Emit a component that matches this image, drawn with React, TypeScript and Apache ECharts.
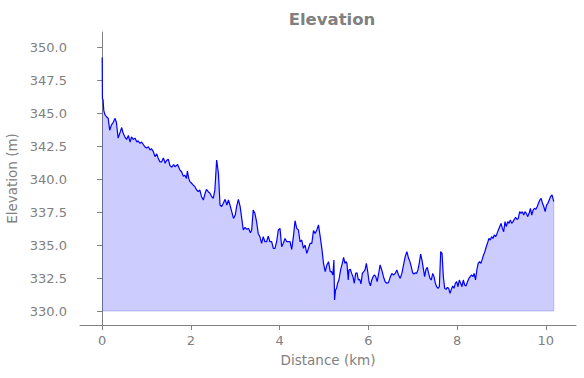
import React, { useEffect, useRef } from "react";
import * as echarts from "echarts";

const distanceKm: number[] = [
  0.0, 0.005, 0.02, 0.036, 0.06, 0.1, 0.135, 0.17, 0.21, 0.25, 0.29, 0.32, 0.36, 0.4, 0.44, 0.47, 0.51, 0.55, 0.59, 0.63,
  0.66, 0.7, 0.74, 0.78, 0.81, 0.85, 0.89, 0.93, 0.96, 1.0, 1.04, 1.08, 1.11, 1.15, 1.19, 1.23, 1.26, 1.3, 1.34, 1.38,
  1.42, 1.45, 1.49, 1.53, 1.57, 1.61,
  1.64, 1.7, 1.75, 1.79, 1.83, 1.86, 1.9, 1.92, 1.95, 1.98, 2.01, 2.05, 2.09, 2.13, 2.165, 2.2, 2.24, 2.28, 2.32, 2.35,
  2.39, 2.43, 2.47, 2.505, 2.54, 2.58, 2.62, 2.656, 2.69, 2.73, 2.77, 2.81, 2.845, 2.88, 2.92, 2.96, 3.0, 3.03, 3.07,
  3.11, 3.15, 3.18, 3.22, 3.26, 3.3, 3.34, 3.37,
  3.404, 3.442, 3.48, 3.517, 3.555, 3.593, 3.63, 3.668, 3.706, 3.744, 3.781, 3.82, 3.857, 3.895, 3.932, 3.97, 4.008,
  4.046, 4.083, 4.121, 4.159, 4.196, 4.234, 4.272, 4.31, 4.347, 4.385, 4.423, 4.46, 4.498, 4.536, 4.574, 4.612, 4.65,
  4.687, 4.725, 4.763, 4.8, 4.838, 4.876, 4.914, 4.951, 4.989, 5.027, 5.065, 5.102, 5.14,
  5.17, 5.2, 5.223, 5.238, 5.26, 5.283, 5.306, 5.336, 5.374, 5.412, 5.442, 5.472, 5.495, 5.517, 5.547, 5.562, 5.593,
  5.623, 5.653, 5.683, 5.713, 5.744, 5.774, 5.804, 5.834, 5.864, 5.895, 5.925, 5.955, 5.985, 6.015, 6.046, 6.076, 6.106,
  6.136, 6.166, 6.197, 6.227, 6.264, 6.302, 6.34, 6.378, 6.415, 6.453, 6.491, 6.529, 6.566, 6.604, 6.642, 6.68, 6.717,
  6.755, 6.793, 6.83, 6.868, 6.906,
  6.936, 6.966, 6.996, 7.027, 7.057, 7.087, 7.117, 7.147, 7.178, 7.208, 7.238, 7.268, 7.298, 7.328, 7.359, 7.389, 7.419,
  7.45, 7.48, 7.51, 7.54, 7.57, 7.6, 7.63, 7.66, 7.69, 7.72, 7.75, 7.78, 7.81, 7.84, 7.87, 7.9, 7.93, 7.96, 7.99, 8.02,
  8.05, 8.08, 8.11, 8.14, 8.17, 8.2, 8.235, 8.265, 8.295, 8.325, 8.355, 8.385, 8.415, 8.445, 8.475, 8.506, 8.536, 8.566,
  8.596, 8.626,
  8.657, 8.695, 8.717, 8.748, 8.778, 8.808, 8.838, 8.868, 8.9, 8.93, 8.96, 8.99, 9.02, 9.05, 9.08, 9.11, 9.14, 9.17, 9.2,
  9.23, 9.26, 9.29, 9.32, 9.35, 9.38, 9.41, 9.44, 9.47, 9.5, 9.53, 9.56, 9.593, 9.623, 9.653, 9.683, 9.714, 9.744, 9.774,
  9.804, 9.834, 9.865, 9.895, 9.925, 9.955, 9.985, 10.016, 10.046, 10.076, 10.106, 10.14, 10.16, 10.18,
];

const elevationM: number[] = [
  349.2, 346.1, 346.0, 345.2, 344.9, 344.7, 344.6, 343.7, 344.1, 344.3, 344.6, 344.3, 343.1, 343.5, 343.9, 343.5, 343.2,
  343.0, 343.3, 342.8, 343.2, 343.0, 343.1, 342.8, 342.9, 342.7, 342.8, 342.6, 342.45, 342.35, 342.45, 342.2, 342.3,
  342.1, 341.7, 341.9, 341.6, 341.3, 341.3, 341.6, 341.2, 341.4, 341.5, 341.0, 340.9, 341.1,
  340.93, 341.1, 340.7, 340.55, 340.2, 340.3, 340.05, 340.6, 340.05, 339.8, 339.7, 339.55, 339.42, 339.17, 339.04,
  339.17, 338.66, 338.41, 338.92, 339.22, 339.04, 338.92, 338.66, 338.54, 339.17, 341.44, 340.43, 338.03, 337.91,
  338.16, 338.46, 338.03, 338.41, 338.03, 337.53, 337.02, 337.27, 337.91, 338.46, 337.91, 336.9, 336.14, 336.34,
  336.19, 336.26, 335.93, 336.14,
  337.65, 337.4, 336.77, 335.88, 335.63, 335.13, 335.63, 335.25, 335.25, 335.68, 335.25, 335.25, 334.75, 334.75,
  335.25, 336.14, 336.26, 334.87, 335.13, 335.5, 335.25, 335.25, 335.25, 334.67, 335.63, 336.84, 336.26, 336.14,
  335.25, 335.38, 334.75, 335.0, 334.37, 334.75, 335.13, 335.13, 336.09, 335.88, 336.14, 336.52, 335.63, 334.75,
  333.61, 332.98, 333.49, 333.74, 332.98,
  332.98, 332.73, 333.86, 330.83, 331.59, 331.72, 332.1, 332.35, 333.11, 333.61, 334.07, 333.61, 333.74, 333.61,
  332.35, 333.11, 333.16, 332.85, 332.6, 332.1, 332.85, 332.9, 332.35, 332.4, 332.05, 332.85, 332.98, 333.11, 333.61,
  332.98, 332.22, 331.9, 332.35, 332.6, 332.73, 332.6, 332.22, 332.73, 333.49, 333.11, 332.6, 332.22, 332.1, 332.15,
  332.55, 332.85, 332.73, 332.85, 333.11, 332.73, 332.47, 332.85, 333.49, 334.12, 334.5, 333.99,
  333.74, 333.36, 332.9, 332.8, 332.9, 332.85, 333.11, 333.61, 334.32, 333.86, 333.23, 332.6, 333.16, 333.31, 332.85,
  332.47, 332.35, 332.85, 332.6, 332.1, 331.84, 331.72, 331.84, 334.5, 334.37, 332.6, 331.72, 331.64, 331.79, 331.72,
  331.34, 331.64, 331.9, 331.72, 332.1, 332.22, 331.84, 332.35, 332.1, 331.84, 332.35, 331.97, 331.9, 332.22, 332.47,
  332.6, 332.73, 332.6, 332.85, 332.35, 333.11, 333.61, 333.74, 333.61, 333.91, 334.24, 334.5,
  334.87, 335.25, 335.5, 335.38, 335.63, 335.5, 335.76, 335.63, 335.88, 336.14, 336.39, 336.64, 336.26, 336.01, 336.77,
  336.39, 336.77, 336.64, 336.89, 336.64, 336.77, 336.94, 337.1, 336.94, 337.02, 337.53, 337.4, 337.53, 337.27, 337.53,
  337.4, 337.15, 337.4, 337.78, 337.27, 337.65, 337.78, 337.7, 337.9, 338.16, 338.41, 338.54, 338.16, 337.9, 337.53,
  338.03, 338.16, 338.41, 338.66, 338.79, 338.54, 338.3,
];

const yTicks: number[] = [330, 332.5, 335, 337.5, 340, 342.5, 345, 347.5, 350];
const xTicks: number[] = [0, 2, 4, 6, 8, 10];
const fillBase = 330;

const GRAY = "#808080";
const FONT = "DejaVu Sans";

export default function App() {
  const ref = useRef<HTMLDivElement>(null);

  useEffect(() => {
    if (!ref.current) return;
    const chart = echarts.init(ref.current, undefined, { renderer: "svg" });
    const points = distanceKm.map((d, i) => [d, elevationM[i]]);
    const lastX = distanceKm[distanceKm.length - 1];
    const lastY = elevationM[elevationM.length - 1];

    chart.setOption({
      animation: false,
      backgroundColor: "#ffffff",
      title: {
        text: "Elevation",
        left: 327,
        textAlign: "center",
        top: 6,
        textStyle: { color: GRAY, fontFamily: FONT, fontSize: 16.5, fontWeight: "bold" },
      },
      grid: { left: 80, right: 8, top: 32, bottom: 53, containLabel: false, outerBoundsMode: "none" },
      xAxis: {
        type: "value",
        min: -0.5,
        max: 10.68,
        name: "Distance (km)",
        nameLocation: "middle",
        nameGap: 28,
        nameTextStyle: { color: GRAY, fontFamily: FONT, fontSize: 13.5 },
        axisLine: { show: true, lineStyle: { color: GRAY, width: 1 } },
        axisTick: { show: true, inside: false, length: 5, lineStyle: { color: GRAY }, customValues: xTicks },
        axisLabel: {
          color: GRAY,
          fontFamily: FONT,
          fontSize: 13,
          margin: 9,
          customValues: xTicks,
          formatter: (v: number) => String(v),
        },
        splitLine: { show: false },
      },
      yAxis: {
        type: "value",
        min: 328.94,
        max: 351.14,
        name: "Elevation (m)",
        nameLocation: "middle",
        nameGap: 51,
        nameTextStyle: { color: GRAY, fontFamily: FONT, fontSize: 13.5 },
        axisLine: { show: true, lineStyle: { color: GRAY, width: 1 } },
        axisTick: { show: true, inside: false, length: 5, lineStyle: { color: GRAY }, customValues: yTicks },
        axisLabel: {
          color: GRAY,
          fontFamily: FONT,
          fontSize: 13,
          margin: 13,
          customValues: yTicks,
          formatter: (v: number) => v.toFixed(1),
        },
        splitLine: { show: false },
      },
      series: [
        {
          type: "line",
          data: points,
          symbol: "none",
          silent: true,
          lineStyle: { width: 0, opacity: 0 },
          areaStyle: { color: "rgba(0,0,255,0.2)", origin: fillBase, opacity: 1 },
          z: 1,
        },
        {
          type: "line",
          data: [
            [0, fillBase],
            [lastX, fillBase],
            [lastX, lastY],
          ],
          symbol: "none",
          silent: true,
          lineStyle: { color: "rgba(0,0,255,0.2)", width: 1 },
          z: 2,
        },
        {
          type: "line",
          data: points,
          symbol: "none",
          silent: true,
          lineStyle: { color: "#0000ff", width: 1.2 },
          z: 3,
        },
      ],
    });
    return () => chart.dispose();
  }, []);

  return (
    <div
      ref={ref}
      style={{ position: "absolute", left: 0, top: 0, width: 584, height: 378 }}
    />
  );
}
